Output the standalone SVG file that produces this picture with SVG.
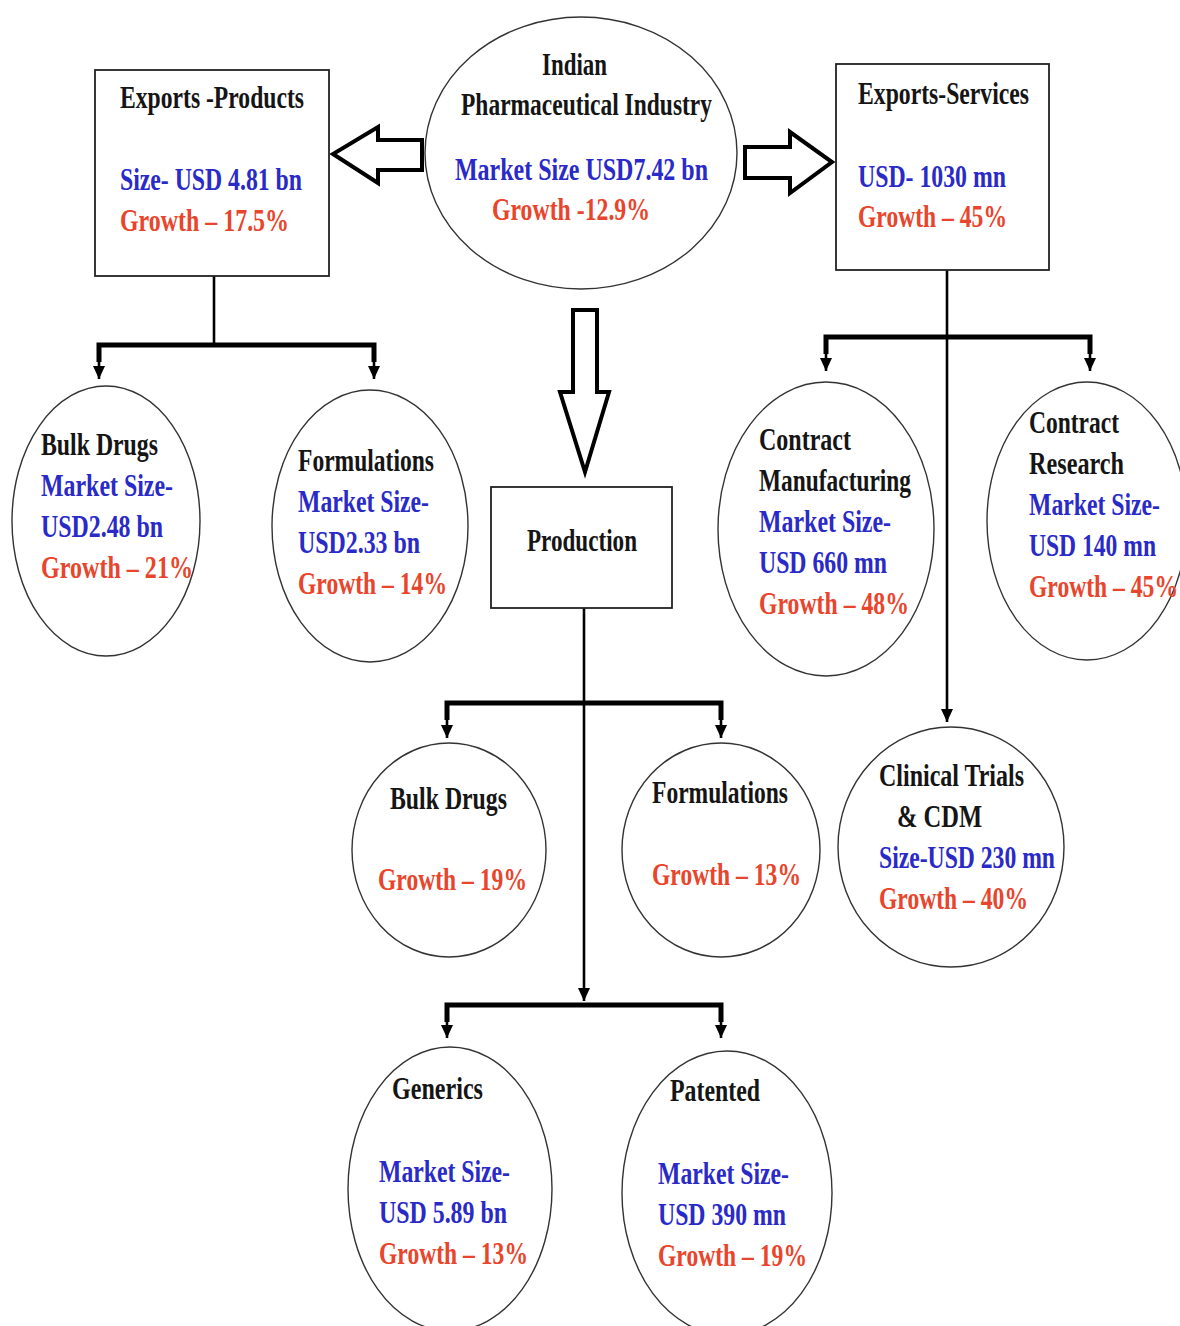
<svg xmlns="http://www.w3.org/2000/svg" width="1180" height="1326" viewBox="0 0 1180 1326">
<style>
text{font-family:"Liberation Serif","Times New Roman",serif;font-weight:bold;font-size:32px;}
.k{fill:#151515;}
.b{fill:#2a2ac8;}
.r{fill:#e8452c;}
.shape{fill:#fff;stroke:#333;stroke-width:1.4;}
.box{fill:#fff;stroke:#222;stroke-width:1.8;}
.blk{fill:#fff;stroke:#000;stroke-width:4;stroke-linejoin:miter;}
.drop{fill:none;stroke:#000;stroke-width:2.6;}
.bar{fill:none;stroke:#000;stroke-width:5;}
</style>
<defs>
<marker id="ah" markerUnits="userSpaceOnUse" markerWidth="14" markerHeight="12" refX="13" refY="6" orient="auto">
<path d="M0,0 L13,6 L0,12 z" fill="#000"/>
</marker>
</defs>
<rect width="1180" height="1326" fill="#fff"/>

<g id="connectors">
<polygon class="blk" points="422,140 378,140 378,127 333,154 378,183 378,170 422,170"/>
<polygon class="blk" points="745,147 790,147 790,132 832,162 790,193 790,178 745,178"/>
<polygon class="blk" points="573,310 597,310 597,392 609,392 585,472 560,392 573,392"/>
<line class="drop" x1="214" y1="276" x2="214" y2="345"/>
<polyline class="bar" points="99,362 99,345 374,345 374,362"/>
<line class="drop" x1="99" y1="355" x2="99" y2="379" marker-end="url(#ah)"/>
<line class="drop" x1="374" y1="355" x2="374" y2="379" marker-end="url(#ah)"/>
<line class="drop" x1="947" y1="270" x2="947" y2="722" marker-end="url(#ah)"/>
<polyline class="bar" points="826,354 826,337 1090,337 1090,354"/>
<line class="drop" x1="826" y1="347" x2="826" y2="371" marker-end="url(#ah)"/>
<line class="drop" x1="1090" y1="347" x2="1090" y2="371" marker-end="url(#ah)"/>
<line class="drop" x1="584" y1="608" x2="584" y2="1001" marker-end="url(#ah)"/>
<polyline class="bar" points="447,720 447,703 721,703 721,720"/>
<line class="drop" x1="447" y1="713" x2="447" y2="738" marker-end="url(#ah)"/>
<line class="drop" x1="721" y1="713" x2="721" y2="738" marker-end="url(#ah)"/>
<polyline class="bar" points="447,1022 447,1005 721,1005 721,1022"/>
<line class="drop" x1="447" y1="1014" x2="447" y2="1038" marker-end="url(#ah)"/>
<line class="drop" x1="721" y1="1014" x2="721" y2="1038" marker-end="url(#ah)"/>
</g>

<g id="industry">
<ellipse class="shape" cx="581" cy="153" rx="156" ry="136"/>
<text class="k" x="542" y="75" textLength="65" lengthAdjust="spacingAndGlyphs">Indian</text>
<text class="k" x="461" y="115" textLength="251" lengthAdjust="spacingAndGlyphs">Pharmaceutical Industry</text>
<text class="b" x="455" y="180" textLength="253" lengthAdjust="spacingAndGlyphs">Market Size USD7.42 bn</text>
<text class="r" x="492" y="220" textLength="158" lengthAdjust="spacingAndGlyphs">Growth -12.9%</text>
</g>

<g id="exports-products">
<rect class="box" x="95" y="70" width="234" height="206"/>
<text class="k" x="120" y="108" textLength="184" lengthAdjust="spacingAndGlyphs">Exports -Products</text>
<text class="b" x="120" y="190" textLength="182" lengthAdjust="spacingAndGlyphs">Size- USD 4.81 bn</text>
<text class="r" x="120" y="231" textLength="169" lengthAdjust="spacingAndGlyphs">Growth – 17.5%</text>
</g>

<g id="exports-services">
<rect class="box" x="836" y="64" width="213" height="206"/>
<text class="k" x="858" y="104" textLength="171" lengthAdjust="spacingAndGlyphs">Exports-Services</text>
<text class="b" x="858" y="187" textLength="148" lengthAdjust="spacingAndGlyphs">USD- 1030 mn</text>
<text class="r" x="858" y="227" textLength="149" lengthAdjust="spacingAndGlyphs">Growth – 45%</text>
</g>

<g id="bulk-drugs-export">
<ellipse class="shape" cx="106" cy="521" rx="94" ry="135"/>
<text class="k" x="41" y="455" textLength="117" lengthAdjust="spacingAndGlyphs">Bulk Drugs</text>
<text class="b" x="41" y="496" textLength="132" lengthAdjust="spacingAndGlyphs">Market Size-</text>
<text class="b" x="41" y="537" textLength="122" lengthAdjust="spacingAndGlyphs">USD2.48 bn</text>
<text class="r" x="41" y="578" textLength="152" lengthAdjust="spacingAndGlyphs">Growth – 21%</text>
</g>

<g id="formulations-export">
<ellipse class="shape" cx="370" cy="526" rx="98" ry="136"/>
<text class="k" x="298" y="471" textLength="136" lengthAdjust="spacingAndGlyphs">Formulations</text>
<text class="b" x="298" y="512" textLength="131" lengthAdjust="spacingAndGlyphs">Market Size-</text>
<text class="b" x="298" y="553" textLength="122" lengthAdjust="spacingAndGlyphs">USD2.33 bn</text>
<text class="r" x="298" y="594" textLength="149" lengthAdjust="spacingAndGlyphs">Growth – 14%</text>
</g>

<g id="contract-manufacturing">
<ellipse class="shape" cx="826" cy="529" rx="108" ry="147"/>
<text class="k" x="759" y="450" textLength="92" lengthAdjust="spacingAndGlyphs">Contract</text>
<text class="k" x="759" y="491" textLength="152" lengthAdjust="spacingAndGlyphs">Manufacturing</text>
<text class="b" x="759" y="532" textLength="132" lengthAdjust="spacingAndGlyphs">Market Size-</text>
<text class="b" x="759" y="573" textLength="128" lengthAdjust="spacingAndGlyphs">USD 660 mn</text>
<text class="r" x="759" y="614" textLength="150" lengthAdjust="spacingAndGlyphs">Growth – 48%</text>
</g>

<g id="contract-research">
<ellipse class="shape" cx="1087" cy="521" rx="100" ry="139"/>
<text class="k" x="1029" y="433" textLength="90" lengthAdjust="spacingAndGlyphs">Contract</text>
<text class="k" x="1029" y="474" textLength="95" lengthAdjust="spacingAndGlyphs">Research</text>
<text class="b" x="1029" y="515" textLength="131" lengthAdjust="spacingAndGlyphs">Market Size-</text>
<text class="b" x="1029" y="556" textLength="127" lengthAdjust="spacingAndGlyphs">USD 140 mn</text>
<text class="r" x="1029" y="597" textLength="149" lengthAdjust="spacingAndGlyphs">Growth – 45%</text>
</g>

<g id="production">
<rect class="box" x="491" y="487" width="181" height="121"/>
<text class="k" x="527" y="551" textLength="110" lengthAdjust="spacingAndGlyphs">Production</text>
</g>

<g id="bulk-drugs-production">
<ellipse class="shape" cx="449" cy="850" rx="97" ry="107"/>
<text class="k" x="390" y="809" textLength="117" lengthAdjust="spacingAndGlyphs">Bulk Drugs</text>
<text class="r" x="378" y="890" textLength="149" lengthAdjust="spacingAndGlyphs">Growth – 19%</text>
</g>

<g id="formulations-production">
<ellipse class="shape" cx="721" cy="850" rx="99" ry="107"/>
<text class="k" x="652" y="803" textLength="136" lengthAdjust="spacingAndGlyphs">Formulations</text>
<text class="r" x="652" y="885" textLength="149" lengthAdjust="spacingAndGlyphs">Growth – 13%</text>
</g>

<g id="clinical-trials">
<ellipse class="shape" cx="951" cy="847" rx="113" ry="120"/>
<text class="k" x="879" y="786" textLength="145" lengthAdjust="spacingAndGlyphs">Clinical Trials</text>
<text class="k" x="897" y="827" textLength="85" lengthAdjust="spacingAndGlyphs">&amp; CDM</text>
<text class="b" x="879" y="868" textLength="176" lengthAdjust="spacingAndGlyphs">Size-USD 230 mn</text>
<text class="r" x="879" y="909" textLength="149" lengthAdjust="spacingAndGlyphs">Growth – 40%</text>
</g>

<g id="generics">
<ellipse class="shape" cx="450" cy="1189" rx="102" ry="142"/>
<text class="k" x="392" y="1099" textLength="91" lengthAdjust="spacingAndGlyphs">Generics</text>
<text class="b" x="379" y="1182" textLength="131" lengthAdjust="spacingAndGlyphs">Market Size-</text>
<text class="b" x="379" y="1223" textLength="128" lengthAdjust="spacingAndGlyphs">USD 5.89 bn</text>
<text class="r" x="379" y="1264" textLength="149" lengthAdjust="spacingAndGlyphs">Growth – 13%</text>
</g>

<g id="patented">
<ellipse class="shape" cx="727" cy="1193" rx="105" ry="142"/>
<text class="k" x="670" y="1101" textLength="90" lengthAdjust="spacingAndGlyphs">Patented</text>
<text class="b" x="658" y="1184" textLength="131" lengthAdjust="spacingAndGlyphs">Market Size-</text>
<text class="b" x="658" y="1225" textLength="128" lengthAdjust="spacingAndGlyphs">USD 390 mn</text>
<text class="r" x="658" y="1266" textLength="149" lengthAdjust="spacingAndGlyphs">Growth – 19%</text>
</g>
</svg>
